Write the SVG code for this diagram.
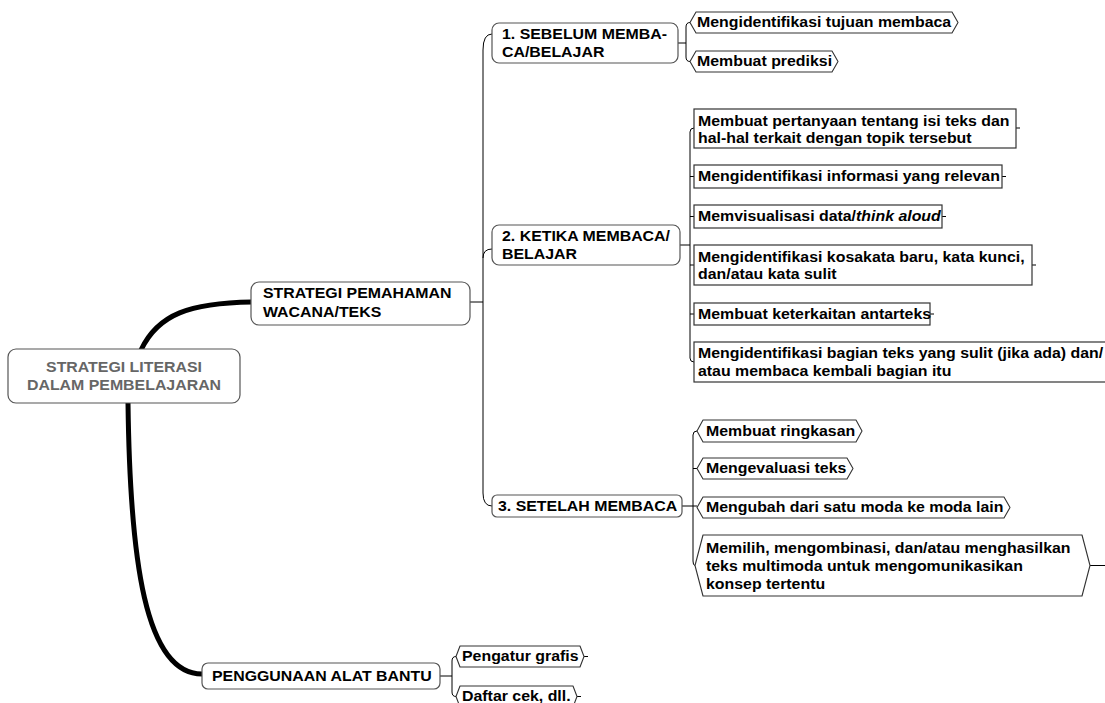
<svg xmlns="http://www.w3.org/2000/svg" width="1105" height="703" viewBox="0 0 1105 703">
<style>
.t{font-family:"Liberation Sans",Arial,sans-serif;font-weight:bold;font-size:14px;fill:#000}
.root{fill:#666;text-anchor:middle}
.rb{fill:#fff;stroke:#555;stroke-width:1.2}
.sq{fill:#fff;stroke:#333;stroke-width:1.2}
.hx{fill:#fff;stroke:#333;stroke-width:1.1;stroke-linejoin:round}
.c{fill:none;stroke:#000;stroke-width:1}
.thick{fill:none;stroke:#000;stroke-width:5;stroke-linecap:round}
</style>
<rect width="1105" height="703" fill="#fff"/>
<g id="connectors">
<path class="thick" d="M141,350 C158,314 190,303 252,302"/>
<path class="thick" d="M128,403 C130,560 145,674 202,674"/>
<path class="c" d="M470,302 H483"/>
<path class="c" d="M492,34 Q483,34 483,50 V493 Q483,506 492,506"/>
<path class="c" d="M483,258 Q483,249 492,249"/>
<path class="c" d="M678,43 H686"/>
<path class="c" d="M690,22.5 Q686,22.5 686,27 V57 Q686,61.5 690,61.5"/>
<path class="c" d="M680,245 H690"/>
<path class="c" d="M694,128 Q690,128 690,132 V358 Q690,362 694,362"/>
<path class="c" d="M690,176.5 H694 M690,216.5 H694 M690,265 H694 M690,314 H694"/>
<path class="c" d="M1016,128 H1020 M1002,176.5 H1006 M942,216.5 H946 M1032,265 H1036 M930,314 H934"/>
<path class="c" d="M682,506 H697"/>
<path class="c" d="M697,431 Q693,431 693,435 V561 Q693,565.5 695,565.5"/>
<path class="c" d="M693,468.5 H697"/>
<path class="c" d="M1090,565.5 H1105"/>
<path class="c" d="M440,676 H452"/>
<path class="c" d="M456,656.5 Q452,656.5 452,661 V692 Q452,696.5 456,696.5"/>
<path class="c" d="M584,656.5 H588 M577,696.5 H581"/>
</g>
<g id="root">
<rect class="rb" x="8" y="349" width="232" height="54" rx="8"/>
<text class="t root" transform="translate(124,372) scale(1.135,1)"><tspan x="0">STRATEGI LITERASI</tspan><tspan x="0" dy="18">DALAM PEMBELAJARAN</tspan></text>
</g>
<g id="strategi">
<rect class="rb" x="251" y="282" width="219" height="43" rx="8"/>
<text class="t" transform="translate(263,298) scale(1.135,1)"><tspan x="0">STRATEGI PEMAHAMAN</tspan><tspan x="0" dy="19">WACANA/TEKS</tspan></text>
</g>
<g id="n1">
<rect class="rb" x="492" y="23" width="186" height="40" rx="7"/>
<text class="t" transform="translate(502,39) scale(1.135,1)"><tspan x="0">1. SEBELUM MEMBA-</tspan><tspan x="0" dy="18">CA/BELAJAR</tspan></text>
</g>
<g id="n1a">
<path class="hx" d="M696,12 H952 L958,22.5 L952,33 H696 L690,22.5 Z"/>
<text class="t" transform="translate(697,27) scale(1.135,1)">Mengidentifikasi tujuan membaca</text>
</g>
<g id="n1b">
<path class="hx" d="M696,51 H832 L838,61.5 L832,72 H696 L690,61.5 Z"/>
<text class="t" transform="translate(697,66) scale(1.135,1)">Membuat prediksi</text>
</g>
<g id="n2">
<rect class="rb" x="492" y="225" width="188" height="40" rx="7"/>
<text class="t" transform="translate(502,241) scale(1.135,1)"><tspan x="0">2. KETIKA MEMBACA/</tspan><tspan x="0" dy="18">BELAJAR</tspan></text>
</g>
<g id="n2a">
<rect class="sq" x="694" y="109" width="322" height="39"/>
<text class="t" transform="translate(698,126) scale(1.135,1)"><tspan x="0">Membuat pertanyaan tentang isi teks dan</tspan><tspan x="0" dy="17">hal-hal terkait dengan topik tersebut</tspan></text>
</g>
<g id="n2b">
<rect class="sq" x="694" y="165" width="308" height="23"/>
<text class="t" transform="translate(698,181) scale(1.135,1)">Mengidentifikasi informasi yang relevan</text>
</g>
<g id="n2c">
<rect class="sq" x="694" y="205" width="248" height="23"/>
<text class="t" transform="translate(698,221) scale(1.135,1)">Memvisualisasi data/<tspan font-style="italic">think aloud</tspan></text>
</g>
<g id="n2d">
<rect class="sq" x="694" y="245" width="338" height="40"/>
<text class="t" transform="translate(698,262) scale(1.135,1)"><tspan x="0">Mengidentifikasi kosakata baru, kata kunci,</tspan><tspan x="0" dy="17">dan/atau kata sulit</tspan></text>
</g>
<g id="n2e">
<rect class="sq" x="694" y="303" width="236" height="22"/>
<text class="t" transform="translate(698,319) scale(1.135,1)">Membuat keterkaitan antarteks</text>
</g>
<g id="n2f">
<rect class="sq" x="694" y="342" width="420" height="40"/>
<text class="t" transform="translate(698,358) scale(1.135,1)"><tspan x="0">Mengidentifikasi bagian teks yang sulit (jika ada) dan/</tspan><tspan x="0" dy="18">atau membaca kembali bagian itu</tspan></text>
</g>
<g id="n3">
<rect class="rb" x="492" y="495" width="190" height="22" rx="5"/>
<text class="t" transform="translate(498,511) scale(1.135,1)">3. SETELAH MEMBACA</text>
</g>
<g id="n3a">
<path class="hx" d="M703,420 H856 L862,431 L856,442 H703 L697,431 Z"/>
<text class="t" transform="translate(706,436) scale(1.135,1)">Membuat ringkasan</text>
</g>
<g id="n3b">
<path class="hx" d="M703,458 H847 L853,468.5 L847,479 H703 L697,468.5 Z"/>
<text class="t" transform="translate(706,473) scale(1.135,1)">Mengevaluasi teks</text>
</g>
<g id="n3c">
<path class="hx" d="M703,497 H1004 L1010,507.5 L1004,518 H703 L697,507.5 Z"/>
<text class="t" transform="translate(706,512) scale(1.135,1)">Mengubah dari satu moda ke moda lain</text>
</g>
<g id="n3d">
<path class="hx" d="M703,535 H1082 L1090,565.5 L1082,596 H703 L695,565.5 Z"/>
<text class="t" transform="translate(706,553) scale(1.135,1)"><tspan x="0">Memilih, mengombinasi, dan/atau menghasilkan</tspan><tspan x="0" dy="18">teks multimoda untuk mengomunikasikan</tspan><tspan x="0" dy="18">konsep tertentu</tspan></text>
</g>
<g id="alat">
<rect class="rb" x="202" y="663" width="238" height="26" rx="6"/>
<text class="t" transform="translate(212,681) scale(1.135,1)">PENGGUNAAN ALAT BANTU</text>
</g>
<g id="alat1">
<path class="hx" d="M460,646 H580 L584,656.5 L580,667 H460 L456,656.5 Z"/>
<text class="t" transform="translate(462,661) scale(1.135,1)">Pengatur grafis</text>
</g>
<g id="alat2">
<path class="hx" d="M460,686 H573 L577,696.5 L573,707 H460 L456,696.5 Z"/>
<text class="t" transform="translate(462,701) scale(1.135,1)">Daftar cek, dll.</text>
</g>
</svg>
